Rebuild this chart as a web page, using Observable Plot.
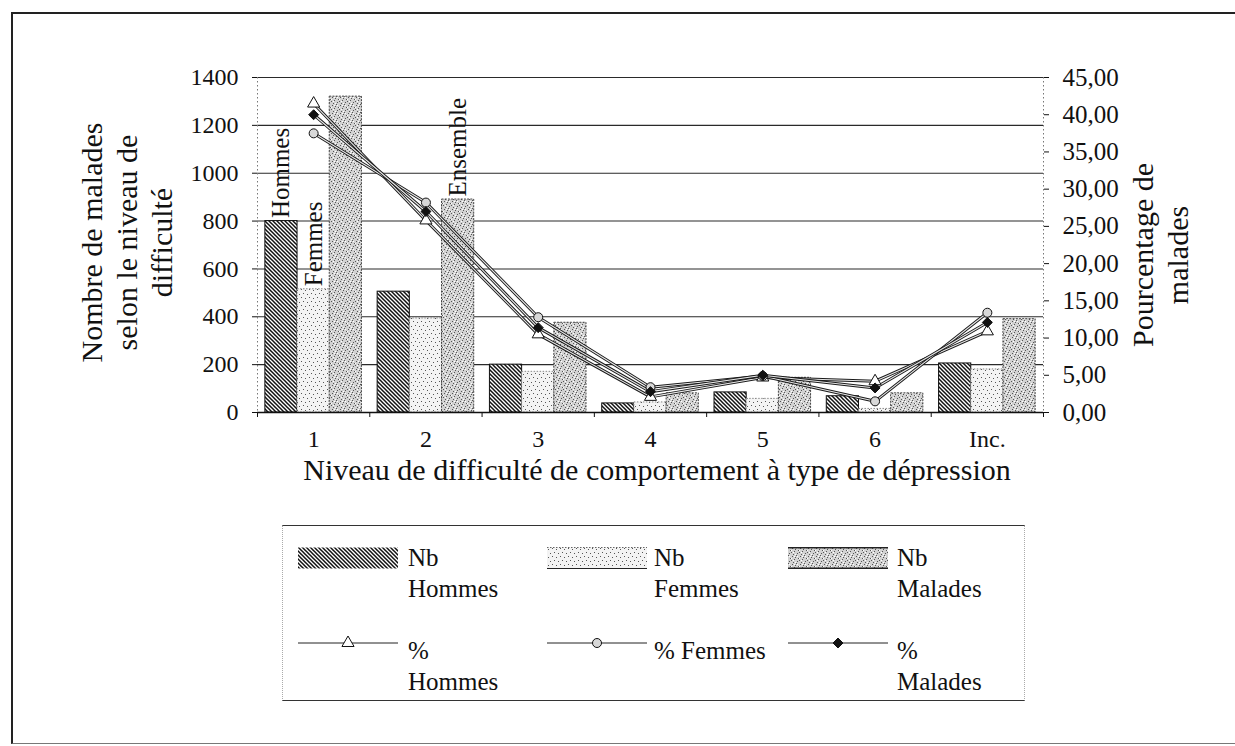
<!DOCTYPE html>
<html><head><meta charset="utf-8">
<script src="https://cdn.jsdelivr.net/npm/d3@7"></script>
<script src="https://cdn.jsdelivr.net/npm/@observablehq/plot@0.6"></script>
<style>
html,body{margin:0;padding:0;background:#fff;width:1235px;height:746px;overflow:hidden;color:#111}
#frame{position:absolute;left:11px;top:12px;width:1240px;height:732px;border-left:2px solid #222;border-top:2px solid #222;border-bottom:1px solid #777;box-sizing:border-box}
#chart{position:absolute;left:0;top:0}
.rot{position:absolute;transform:rotate(-90deg);text-align:center;font-size:30px;line-height:35px;white-space:pre}
#xtitle{position:absolute;left:257px;width:800px;top:455px;text-align:center;font-size:30px;line-height:30px;white-space:nowrap}
#legend{position:absolute;left:282px;top:525px;width:743px;height:176px;border-top:1.5px solid #333;border-bottom:1.5px solid #333;border-left:1px dotted #aaa;border-right:1px dotted #aaa;box-sizing:border-box}
.lg-sw{position:absolute;overflow:visible}
.lg-tx{position:absolute;font-size:25px;line-height:31px;white-space:pre}
</style></head><body>
<div id="frame"></div>
<div id="chart"></div>
<div id="ltitle" class="rot"></div>
<div id="rtitle" class="rot"></div>
<div id="xtitle"></div>
<div id="legend"></div>
<script>
// ---- data ----
const categories = ["1", "2", "3", "4", "5", "6", "Inc."];
const seriesNames = ["Hommes", "Femmes", "Malades"];
const nbHommes  = [800, 505, 200, 38, 84, 68, 205];
const nbFemmes  = [515, 393, 170, 42, 57, 15, 180];
const nbMalades = [1320, 890, 375, 80, 145, 80, 390];
const pctHommes  = [41.5, 25.8, 10.5, 2.1, 4.7, 4.2, 10.9];
const pctFemmes  = [37.5, 28.2, 12.8, 3.4, 4.9, 1.5, 13.4];
const pctMalades = [40.0, 27.0, 11.4, 2.8, 5.0, 3.3, 12.1];
const leftTicks = [0, 200, 400, 600, 800, 1000, 1200, 1400];
const rightTicks = [0, 5, 10, 15, 20, 25, 30, 35, 40, 45];
const barLabelTexts = ["Hommes", "Femmes", "Ensemble"];
const barLabelCats = [0, 0, 1];
const barLabelSeries = [0, 1, 2];
const leftTitle = "Nombre de malades\nselon le niveau de\ndifficulté";
const rightTitle = "Pourcentage de\nmalades";
const xTitle = "Niveau de difficulté de comportement à type de dépression";
const legendNb = ["Nb\nHommes", "Nb\nFemmes", "Nb\nMalades"];
const legendPct = ["%\nHommes", "% Femmes", "%\nMalades"];

// ---- derived tables ----
const nb = [nbHommes, nbFemmes, nbMalades];
const pct = [pctHommes, pctFemmes, pctMalades];
const k = leftTicks[leftTicks.length - 1] / rightTicks[rightTicks.length - 1];
const pad = 0.07, bw = (1 - 2 * pad) / 3;
const bars = [];
seriesNames.forEach((s, si) => categories.forEach((c, ci) => bars.push({
  si, ci, v: nb[si][ci],
  x1: ci - 0.5 + pad + si * bw, x2: ci - 0.5 + pad + (si + 1) * bw
})));
const pts = seriesNames.map((s, si) => categories.map((c, ci) => ({ci, y: pct[si][ci] * k})));
const barLabels = barLabelTexts.map((t, i) => {
  const ci = barLabelCats[i], si = barLabelSeries[i];
  return {t, x: ci - 0.5 + pad + (si + 0.5) * bw, v: nb[si][ci]};
});
const fmt = v => d3.format(".2f")(v).replace(".", ",");

const fills = ["url(#hatch)", "url(#stipLight)", "url(#stipMed)"];
const strokes = ["#111", "#888", "#444"];
const dashes = [null, "1.5,1.5", "2,1.2"];
const symbols = ["triangle", "circle", "diamond2"];
const symFills = ["white", "#d8d8d8", "#111"];
const font = '"Liberation Serif", serif';

const chart = Plot.plot({
  width: 1235, height: 500,
  marginLeft: 257, marginRight: 192, marginTop: 77, marginBottom: 88,
  style: {fontSize: "24px", background: "transparent", color: "#111"},
  x: {type: "linear", domain: [-0.5, categories.length - 0.5]},
  y: {domain: [0, leftTicks[leftTicks.length - 1]]},
  marks: [
    Plot.ruleY(leftTicks.slice(1), {stroke: "#2a2a2a", strokeWidth: 1.1}),
    ...seriesNames.map((s, si) => Plot.rect(bars.filter(d => d.si === si), {
      x1: "x1", x2: "x2", y1: 0, y2: "v",
      fill: fills[si], stroke: strokes[si], strokeWidth: 1, strokeDasharray: dashes[si]
    })),
    Plot.ruleX([-0.5, categories.length - 0.5], {stroke: "#777", strokeDasharray: "1.5,2.5"}),
    Plot.ruleY([0], {stroke: "#111", strokeWidth: 1.5}),
    Plot.axisY({anchor: "left", ticks: leftTicks, tickSize: 5, tickPadding: 14, tickFormat: d => String(d), label: null, fontSize: 24}),
    Plot.axisY({anchor: "right", ticks: rightTicks.map(p => p * k), tickFormat: v => fmt(v / k), tickSize: 5, tickPadding: 14, label: null, fontSize: 25}),
    Plot.axisX({ticks: d3.range(categories.length + 1).map(i => i - 0.5), tickSize: 5, tickFormat: () => "", label: null}),
    Plot.axisX({ticks: d3.range(categories.length), tickSize: 0, tickPadding: 17, tickFormat: i => categories[i], label: null, fontSize: 24}),
    ...pts.flatMap((p, si) => [
      Plot.line(p, {x: "ci", y: "y", stroke: "#1a1a1a", strokeWidth: 3}),
      Plot.line(p, {x: "ci", y: "y", stroke: "#e8e8e8", strokeWidth: 1.1})
    ]),
    ...pts.map((p, si) => Plot.dot(p, {x: "ci", y: "y", symbol: symbols[si], r: 4.5, fill: symFills[si], stroke: "#111", strokeWidth: 1})),
    Plot.text(barLabels, {x: "x", y: "v", text: "t", rotate: -90, textAnchor: "start", lineAnchor: "middle", dy: -3, fontSize: 25, fill: "#111"})
  ]
});
document.getElementById("chart").appendChild(chart);
chart.style.fontFamily = font;
chart.querySelectorAll("g, text, tspan").forEach(el => { el.style.fontFamily = font; });

// patterns
const defs = d3.select(chart).insert("defs", ":first-child");
const hatch = defs.append("pattern").attr("id", "hatch").attr("patternUnits", "userSpaceOnUse").attr("width", 4).attr("height", 4);
hatch.append("rect").attr("width", 4).attr("height", 4).attr("fill", "#fff");
hatch.append("path").attr("d", "M-1,-1L5,5M-1,3L1,5M3,-1L5,1").attr("stroke", "#111").attr("stroke-width", 1.5);
function stipple(id, bg, dark, light) {
  const p = defs.append("pattern").attr("id", id).attr("patternUnits", "userSpaceOnUse").attr("width", 8).attr("height", 8);
  p.append("rect").attr("width", 8).attr("height", 8).attr("fill", bg);
  dark.forEach(([x, y]) => p.append("rect").attr("x", x).attr("y", y).attr("width", 1).attr("height", 1).attr("fill", "#555"));
  light.forEach(([x, y]) => p.append("rect").attr("x", x).attr("y", y).attr("width", 1).attr("height", 1).attr("fill", "#fff"));
}
stipple("stipLight", "#f3f3f3", [[1, 2], [5, 1], [3, 6], [7, 5]], []);
stipple("stipMed", "#d2d2d2", [[0, 0], [2, 3], [4, 1], [6, 4], [1, 6], [5, 7], [3, 5], [7, 2]], [[1, 1], [5, 5], [3, 3], [7, 7], [6, 1]]);

// titles
function placeRot(el, text, cx, cy, w, lines) {
  const h = lines * 35;
  el.textContent = text;
  el.style.fontFamily = font;
  el.style.width = w + "px"; el.style.height = h + "px";
  el.style.left = (cx - w / 2) + "px"; el.style.top = (cy - h / 2) + "px";
}
placeRot(document.getElementById("ltitle"), leftTitle, 126, 242, 320, 3);
placeRot(document.getElementById("rtitle"), rightTitle, 1160, 255, 260, 2);
const xt = document.getElementById("xtitle");
xt.textContent = xTitle;
xt.style.fontFamily = font;

// legend
const colSw = [298, 547, 788], colTx = [408, 654, 897];
const sym = d3.symbol();
const symTypes = [d3.symbolTriangle, d3.symbolCircle, d3.symbolDiamond2];
seriesNames.forEach((s, si) => {
  const sw = d3.select("body").append("svg").attr("class", "lg-sw").attr("width", 100).attr("height", 22)
    .style("left", colSw[si] + "px").style("top", "547px");
  sw.append("rect").attr("x", 0).attr("y", 0.5).attr("width", 100).attr("height", 21).attr("fill", fills[si]);
  if (si === 1) {
    sw.append("line").attr("x1", 0).attr("x2", 100).attr("y1", 0.5).attr("y2", 0.5).attr("stroke", "#666").attr("stroke-dasharray", "1.5,1.5");
    sw.append("line").attr("x1", 0).attr("x2", 100).attr("y1", 21.5).attr("y2", 21.5).attr("stroke", "#222");
  }
  if (si === 2) {
    sw.append("line").attr("x1", 0).attr("x2", 100).attr("y1", 0.8).attr("y2", 0.8).attr("stroke", "#222").attr("stroke-width", 1.5);
    sw.append("line").attr("x1", 0).attr("x2", 100).attr("y1", 21.2).attr("y2", 21.2).attr("stroke", "#222").attr("stroke-width", 1.5);
  }
  const t1 = document.createElement("div");
  t1.className = "lg-tx"; t1.style.left = colTx[si] + "px"; t1.style.top = "542px";
  t1.style.fontFamily = font; t1.textContent = legendNb[si];
  document.body.appendChild(t1);

  const ln = d3.select("body").append("svg").attr("class", "lg-sw").attr("width", 100).attr("height", 16)
    .style("left", colSw[si] + "px").style("top", "635px");
  ln.append("line").attr("x1", 0).attr("x2", 100).attr("y1", 8).attr("y2", 8).attr("stroke", "#222").attr("stroke-width", 1);
  ln.append("path").attr("transform", "translate(50,8)").attr("d", sym.type(symTypes[si]).size(Math.PI * 4.5 * 4.5)())
    .attr("fill", symFills[si]).attr("stroke", "#111");
  const t2 = document.createElement("div");
  t2.className = "lg-tx"; t2.style.left = colTx[si] + "px"; t2.style.top = "635px";
  t2.style.fontFamily = font; t2.textContent = legendPct[si];
  document.body.appendChild(t2);
});
</script>
</body></html>
